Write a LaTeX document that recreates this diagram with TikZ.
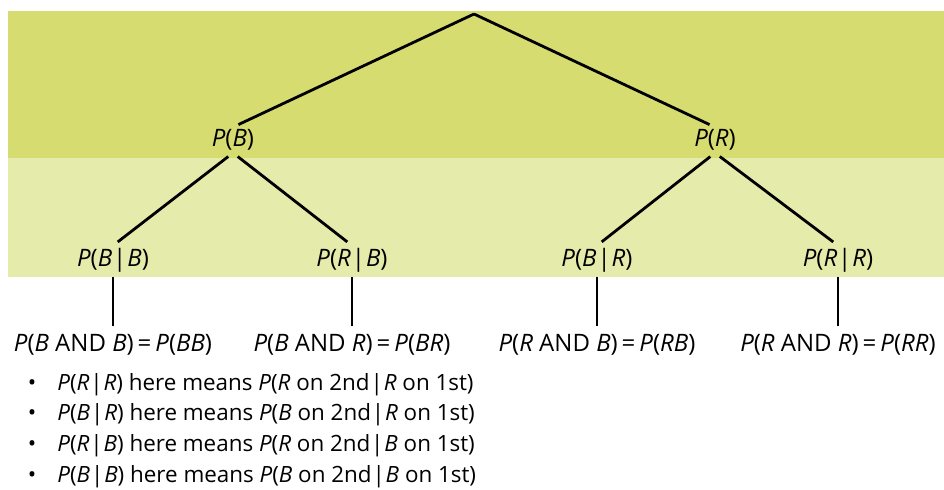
\documentclass[tikz,border=0pt]{standalone}
\usepackage{fontspec}
\setmainfont{Open Sans}
\usepackage{tikz}
\usetikzlibrary{positioning}
\definecolor{banddark}{RGB}{214,220,112}
\definecolor{bandlight}{RGB}{229,235,170}
\newcommand{\prob}[1]{\textit{P}(#1)}
\newcommand{\cnd}{\kern0.04em|\kern0.04em}
\tikzset{branch/.style={line width=1.4pt, black}}
\tikzset{plabel/.style={inner sep=1pt, font=\fontsize{12}{14}\selectfont}}
\tikzset{bullet/.style={anchor=west, inner sep=0pt, font=\fontsize{11.2}{13}\selectfont}}

\begin{document}
\begin{tikzpicture}[x=0.5pt,y=-0.5pt]
  \useasboundingbox (0,0) rectangle (944,489);
  % shaded bands
  \fill[banddark] (8,11) rectangle (944,158);
  \fill[bandlight] (8,158) rectangle (944,277);

  % tree
  \coordinate (root) at (474,14);
  \node[plabel] (pb) at (233,140) {\prob{\textit{B}}};
  \node[plabel] (pr) at (715,140) {\prob{\textit{R}}};
  \node[plabel] (pbb) at (113,260) {\prob{\textit{B}\cnd\textit{B}}};
  \node[plabel] (prb) at (352,260) {\prob{\textit{R}\cnd\textit{B}}};
  \node[plabel] (pbr) at (597,260) {\prob{\textit{B}\cnd\textit{R}}};
  \node[plabel] (prr) at (838,260) {\prob{\textit{R}\cnd\textit{R}}};
  \node[plabel] (jbb) at (113,345) {\prob{\textit{B} AND \textit{B}}\,=\,\prob{\textit{BB}}};
  \node[plabel] (jbr) at (352,345) {\prob{\textit{B} AND \textit{R}}\,=\,\prob{\textit{BR}}};
  \node[plabel] (jrb) at (597,345) {\prob{\textit{R} AND \textit{B}}\,=\,\prob{\textit{RB}}};
  \node[plabel] (jrr) at (838,345) {\prob{\textit{R} AND \textit{R}}\,=\,\prob{\textit{RR}}};

  \draw[branch, shorten >=3pt] (root) -- (pb.north);
  \draw[branch, shorten >=3pt] (root) -- (pr.north);
  \draw[branch, shorten <=3pt, shorten >=3pt] (pb.south) -- (pbb.north);
  \draw[branch, shorten <=3pt, shorten >=3pt] (pb.south) -- (prb.north);
  \draw[branch, shorten <=3pt, shorten >=3pt] (pr.south) -- (pbr.north);
  \draw[branch, shorten <=3pt, shorten >=3pt] (pr.south) -- (prr.north);
  \draw[branch, shorten >=3pt] ([yshift=-1.5pt]pbb.south) -- (pbb.south |- jbb.north);
  \draw[branch, shorten >=3pt] ([yshift=-1.5pt]prb.south) -- (prb.south |- jbr.north);
  \draw[branch, shorten >=3pt] ([yshift=-1.5pt]pbr.south) -- (pbr.south |- jrb.north);
  \draw[branch, shorten >=3pt] ([yshift=-1.5pt]prr.south) -- (prr.south |- jrr.north);

  % notes
  \node[bullet] (n1) at (57,385) {\prob{\textit{R}\cnd\textit{R}} here means \prob{\textit{R} on 2nd\cnd\textit{R} on 1st}};
  \node[bullet] (n2) at (57,415) {\prob{\textit{B}\cnd\textit{R}} here means \prob{\textit{B} on 2nd\cnd\textit{R} on 1st}};
  \node[bullet] (n3) at (57,446) {\prob{\textit{R}\cnd\textit{B}} here means \prob{\textit{R} on 2nd\cnd\textit{B} on 1st}};
  \node[bullet] (n4) at (57,477) {\prob{\textit{B}\cnd\textit{B}} here means \prob{\textit{B} on 2nd\cnd\textit{B} on 1st}};
  \node[bullet, anchor=center] (b1) at (32,385) {\textbullet};
  \node[bullet, anchor=center] (b2) at (32,415) {\textbullet};
  \node[bullet, anchor=center] (b3) at (32,446) {\textbullet};
  \node[bullet, anchor=center] (b4) at (32,477) {\textbullet};
\end{tikzpicture}
\end{document}
